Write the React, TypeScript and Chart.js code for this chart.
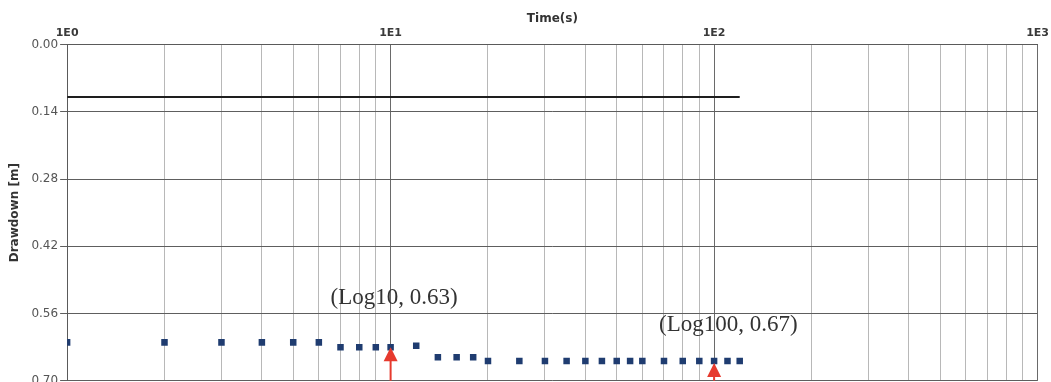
import React, { useEffect, useRef } from "react";
import { Chart, registerables } from "chart.js";

Chart.register(...registerables);

// ---- data ----
const times = [1, 2, 3, 4, 5, 6, 7, 8, 9, 10, 12, 14, 16, 18, 20, 25, 30, 35, 40, 45, 50, 55, 60, 70, 80, 90, 100, 110, 120];
const drawdown = [0.62, 0.62, 0.62, 0.62, 0.62, 0.62, 0.63, 0.63, 0.63, 0.63, 0.627, 0.651, 0.651, 0.651, 0.659, 0.659, 0.659, 0.659, 0.659, 0.659, 0.659, 0.659, 0.659, 0.659, 0.659, 0.659, 0.659, 0.659, 0.659];
const refLineTimes = [1, 120];
const refLineValues = [0.109, 0.109];
const xGridValues = [1, 2, 3, 4, 5, 6, 7, 8, 9, 10, 20, 30, 40, 50, 60, 70, 80, 90, 100, 200, 300, 400, 500, 600, 700, 800, 900, 1000];
const xTickLabels: Record<number, string> = { 1: "1E0", 10: "1E1", 100: "1E2", 1000: "1E3" };
const yTickValues = [0, 0.14, 0.28, 0.42, 0.56, 0.7];
const noteTimes = [10, 100];
const noteTexts = ["(Log10, 0.63)", "(Log100, 0.67)"];

const isDecade = (v: number) => Math.abs(Math.log10(v) - Math.round(Math.log10(v))) < 1e-9;

const annotationPlugin = {
  id: "notes",
  afterDatasetsDraw(chart: any, _args: any, opts: any) {
    const { ctx, chartArea, scales } = chart;
    const xs = scales.x;
    const ys = scales.y;
    ctx.save();
    ctx.beginPath();
    ctx.rect(chartArea.left, chartArea.top, chartArea.right - chartArea.left, chartArea.bottom - chartArea.top);
    ctx.clip();
    noteTimes.forEach((t, i) => {
      const idx = times.indexOf(t);
      const px = xs.getPixelForValue(t);
      const py = ys.getPixelForValue(drawdown[idx]) + opts.tipOffsets[i];
      ctx.fillStyle = opts.arrowColor;
      ctx.strokeStyle = opts.arrowColor;
      ctx.beginPath();
      ctx.moveTo(px, py);
      ctx.lineTo(px - opts.headHalf, py + opts.headLen);
      ctx.lineTo(px + opts.headHalf, py + opts.headLen);
      ctx.closePath();
      ctx.fill();
      ctx.lineWidth = 2;
      ctx.beginPath();
      ctx.moveTo(px, py + opts.headLen - 1);
      ctx.lineTo(px, chartArea.bottom + 2);
      ctx.stroke();
    });
    ctx.restore();
    ctx.save();
    ctx.font = opts.font;
    ctx.fillStyle = opts.textColor;
    ctx.textBaseline = "middle";
    ctx.textAlign = "left";
    noteTimes.forEach((t, i) => {
      const idx = times.indexOf(t);
      const px = xs.getPixelForValue(t);
      const py = ys.getPixelForValue(drawdown[idx]);
      ctx.fillText(noteTexts[i], px + opts.textOffsets[i][0], py + opts.textOffsets[i][1]);
    });
    ctx.restore();
  },
};

export default function App() {
  const ref = useRef<HTMLCanvasElement | null>(null);
  useEffect(() => {
    if (!ref.current) return;
    Chart.defaults.font.family = "'DejaVu Sans', sans-serif";
    const chart = new Chart(ref.current, {
      type: "scatter",
      data: {
        datasets: [
          {
            type: "line",
            data: refLineTimes.map((t, i) => ({ x: t, y: refLineValues[i] })),
            borderColor: "#1e1e1e",
            borderWidth: 2,
            pointRadius: 0,
            clip: 0,
          } as any,
          {
            data: times.map((t, i) => ({ x: t, y: drawdown[i] })),
            backgroundColor: "#1f3c70",
            borderColor: "#1f3c70",
            borderWidth: 0,
            pointStyle: "rect",
            pointRadius: 4.6,
            clip: 0,
          } as any,
        ],
      },
      options: {
        responsive: false,
        animation: false,
        events: [],
        layout: { padding: { top: 0, right: 12, left: 0, bottom: 0 } },
        plugins: {
          legend: { display: false },
          tooltip: { enabled: false },
          notes: {
            arrowColor: "#e63a2e",
            headHalf: 7,
            headLen: 14,
            tipOffsets: [0, 2],
            font: "23px 'Liberation Serif', serif",
            textColor: "#333",
            textOffsets: [[-60, -49], [-55, -36]],
          },
        } as any,
        scales: {
          x: {
            type: "logarithmic",
            position: "top",
            min: 1,
            max: 1000,
            afterBuildTicks: (scale: any) => {
              scale.ticks = xGridValues.map((v) => ({ value: v }));
            },
            ticks: {
              autoSkip: false,
              maxRotation: 0,
              padding: 5,
              color: "#3a3a3a",
              font: { size: 11, weight: "bold" },
              callback: (v: any) => xTickLabels[Number(v)] ?? "",
            },
            grid: {
              drawTicks: false,
              color: (c: any) => (c.tick && isDecade(c.tick.value) ? "#6a6a6a" : "#b8b8b8"),
              lineWidth: 1,
            },
            border: { display: true, color: "#5a5a5a" },
            title: {
              display: true,
              text: "Time(s)",
              color: "#333",
              font: { size: 12, weight: "bold" },
              padding: { top: 12, bottom: -5 },
            },
          },
          y: {
            type: "linear",
            reverse: true,
            min: 0,
            max: 0.7,
            afterBuildTicks: (scale: any) => {
              scale.ticks = yTickValues.map((v) => ({ value: v }));
            },
            ticks: {
              padding: 2,
              color: "#555",
              font: { size: 12 },
              callback: (v: any) => Number(v).toFixed(2),
            },
            grid: {
              color: "#5e5e5e",
              lineWidth: 1,
              tickLength: 7,
            },
            border: { display: true, color: "#5a5a5a" },
            title: {
              display: true,
              text: "Drawdown [m]",
              color: "#333",
              font: { size: 12, weight: "bold" },
              padding: { top: 8, bottom: 7 },
            },
          },
        },
      } as any,
      plugins: [annotationPlugin],
    });
    return () => chart.destroy();
  }, []);
  return (
    <div style={{ position: "fixed", left: 0, top: 0, width: 1051, height: 382, overflow: "hidden", background: "#fff" }}>
      <canvas ref={ref} width={1054} height={390} style={{ display: "block" }} />
    </div>
  );
}
